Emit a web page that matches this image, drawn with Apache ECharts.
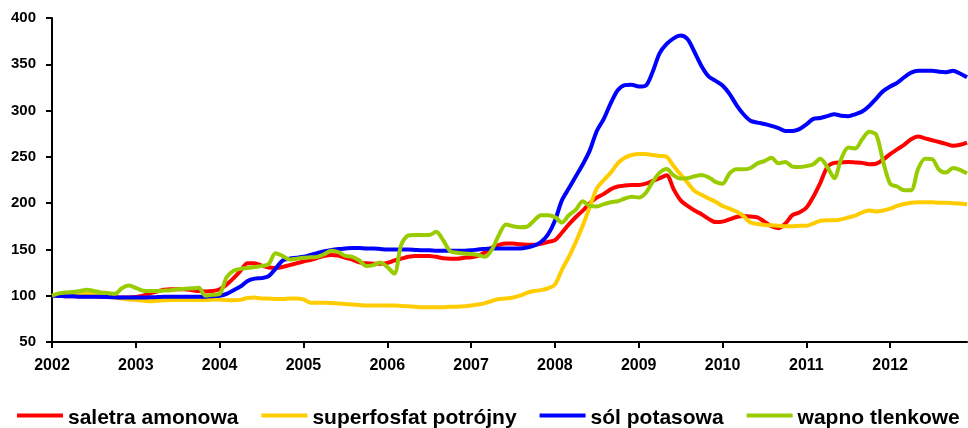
<!DOCTYPE html>
<html>
<head>
<meta charset="utf-8">
<script src="https://cdn.jsdelivr.net/npm/echarts@6/dist/echarts.min.js"></script>
<style>
html,body{margin:0;padding:0;background:#fff;}
#chart{width:968px;height:428px;}
</style>
</head>
<body>
<div id="chart"></div>
<script>
// Years covered (monthly data Jan 2002 – Dec 2012)
const years = [2002, 2003, 2004, 2005, 2006, 2007, 2008, 2009, 2010, 2011, 2012];

const saletraAmonowa = [
  100, 100, 99.5, 99.5, 99.5, 99.5, 99.5, 99, 99, 98.5, 98, 98,
  98.5, 100, 102.5, 104.5, 106.5, 107, 107, 107, 106, 105, 104.5, 105,
  107, 112, 119, 127, 135, 135, 132.5, 130.5, 130, 131, 133, 135,
  137, 138.5, 141, 143, 144, 143.5, 141, 139, 136, 135, 134.5, 134.5,
  135.5, 138, 140, 142, 143, 143, 143, 142, 140.5, 140, 140, 141,
  141.5, 143, 147, 152, 155, 156.5, 156.5, 155.5, 155, 155, 156, 158,
  160, 168, 177, 185, 192, 200, 206, 210, 215, 218, 219, 219.5,
  219.5, 221, 224, 227, 230, 215, 203, 197, 192, 188, 183, 179.5,
  180, 182.5, 185, 186, 185.5, 184.5, 180, 175, 173, 178, 187, 190,
  195, 207, 222, 239, 243.5, 244, 244.5, 244, 243.5, 242, 242.5, 247,
  253, 258, 263, 269, 272, 270, 268, 266, 264, 262, 263, 265.5
];

const superfosfatPotrojny = [
  100, 100.5, 101, 101.5, 102, 102.5, 102, 100.5, 99, 98, 97, 96,
  95.5, 94.5, 94, 94.5, 95, 95.5, 95.5, 95.5, 95.5, 95.5, 95.5, 96,
  96, 95, 95, 95.5, 97.5, 98, 97, 97, 96.5, 96.5, 97, 97,
  96, 92.5, 92.5, 92.5, 92, 91.5, 91, 90.5, 90, 89.5, 89.5, 89.5,
  89.5, 89.5, 89, 88.5, 88, 87.5, 87.5, 87.5, 87.5, 88, 88, 88.5,
  89.5, 90.5, 92, 94.5, 96.5, 97, 98, 100, 103, 105, 106, 108,
  112, 128, 142, 158, 176, 196, 216, 225, 233, 243, 249, 252,
  253, 253, 252, 251, 250, 240, 231, 222, 213, 209, 205, 201.5,
  197, 194, 191, 186, 179, 177.5, 176.5, 176, 175.5, 175, 175, 175.5,
  175.5, 178, 181, 181.5, 181.5, 182.5, 184.5, 186.5, 190, 192, 191, 192,
  194, 197, 199, 200.5, 201, 201, 201, 200.5, 200.5, 200, 199.5, 198.5
];

const solPotasowa = [
  100, 99.8, 99.5, 99.3, 99, 99, 99, 98.8, 98.5, 98.3, 98, 98,
  98, 98, 98.3, 98.5, 98.8, 99, 99, 99, 99, 99, 99, 99.5,
  100, 102, 106, 110, 116, 118.5, 119, 121, 129, 138, 140, 141,
  142, 144, 146, 148, 149.5, 150.5, 151, 151.5, 151.5, 151, 151, 150.5,
  150, 150, 150, 150, 149.5, 149, 149, 148.6, 148.6, 148.6, 148.6, 148.6,
  149, 150, 150.5, 151, 151, 151, 151, 151, 152, 154, 158, 166,
  181, 203, 216, 229, 242, 257, 278, 291, 308, 322, 327.5, 328,
  326, 327, 342, 362, 372, 378, 381, 377, 363, 348, 337, 332,
  327, 318, 306, 296, 289, 287, 285.5, 283.5, 281, 278, 278, 280,
  285, 291, 292, 294, 296, 294.5, 294, 296, 299, 305, 313, 321,
  326, 330, 336, 341, 343, 343, 343, 342, 341.5, 343, 340, 336
];

const wapnoTlenkowe = [
  100, 102.5, 103.5, 104, 105, 106.5, 105, 103.5, 103, 102, 108, 111,
  108.5, 105.5, 105, 105, 105.5, 106, 107, 107.5, 108, 108.5, 100, 101,
  102, 120, 127, 129, 130, 131, 132, 134, 146, 143, 139, 140,
  141, 141.5, 142, 145, 148.5, 147, 143, 142, 138, 132, 133, 136,
  131, 124, 155, 165, 165.5, 165.5, 165.5, 169, 160, 148, 146.5, 145.5,
  145, 144, 142, 150, 166, 177, 175, 174, 174.5, 181, 187, 187,
  185, 179, 187, 193, 202, 197, 196.5, 199, 201, 202, 205, 207,
  206, 211, 223, 233, 237, 230, 226.5, 227, 229, 230.5, 228, 223,
  221, 232, 236.5, 236.5, 238, 243, 245.5, 249, 243, 244.5, 239.5, 239,
  240, 242, 248, 239, 227, 248, 260, 259, 269, 277, 274, 245,
  221, 218, 214, 214, 237, 248, 247.5, 236, 233, 238, 236, 232
];

const seriesNames = ['saletra amonowa', 'superfosfat potrójny', 'sól potasowa', 'wapno tlenkowe'];
const seriesColors = ['#ff0000', '#ffcc00', '#0000ff', '#99cc00'];
const seriesData = [saletraAmonowa, superfosfatPotrojny, solPotasowa, wapnoTlenkowe];

const months = [];
years.forEach(function (y) {
  for (let m = 1; m <= 12; m++) months.push(y + '-' + (m < 10 ? '0' + m : m));
});

const FONT = "'Liberation Sans', Arial, sans-serif";

const chart = echarts.init(document.getElementById('chart'), null, { renderer: 'canvas' });
chart.setOption({
  animation: false,
  backgroundColor: '#ffffff',
  grid: { left: 52, right: 1, top: 18, bottom: 86, containLabel: false },
  xAxis: {
    type: 'category',
    data: months,
    boundaryGap: false,
    axisLine: { show: true, lineStyle: { color: '#000', width: 2 } },
    axisTick: { show: true, interval: 11, length: 6, lineStyle: { color: '#000', width: 2 } },
    axisLabel: {
      interval: 11,
      margin: 16,
      color: '#000',
      fontFamily: FONT,
      fontWeight: 'bold',
      fontSize: 16,
      formatter: function (v) { return v.slice(0, 4); }
    },
    splitLine: { show: false }
  },
  yAxis: {
    type: 'value',
    min: 50,
    max: 400,
    interval: 50,
    axisLine: { show: true, lineStyle: { color: '#000', width: 2 } },
    axisTick: { show: true, length: 6, lineStyle: { color: '#000', width: 2 } },
    axisLabel: {
      margin: 16,
      color: '#000',
      fontFamily: FONT,
      fontWeight: 'bold',
      fontSize: 15
    },
    splitLine: { show: false }
  },
  legend: {
    left: 17,
    top: 408,
    width: 951,
    padding: 0,
    itemGap: 23,
    itemWidth: 46,
    itemHeight: 4,
    icon: 'rect',
    formatter: '{t|{name}}',
    textStyle: {
      color: '#000',
      fontFamily: FONT,
      fontWeight: 'bold',
      fontSize: 21,
      rich: {
        t: {
          color: '#000',
          fontFamily: FONT,
          fontWeight: 'bold',
          fontSize: 21,
          padding: [6, 0, 0, 0]
        }
      }
    },
    data: seriesNames
  },
  series: seriesNames.map(function (name, i) {
    return {
      name: name,
      type: 'line',
      data: seriesData[i],
      symbol: 'none',
      smooth: 0.3,
      itemStyle: { color: seriesColors[i] },
      lineStyle: { color: seriesColors[i], width: 4 }
    };
  })
});
</script>
</body>
</html>
